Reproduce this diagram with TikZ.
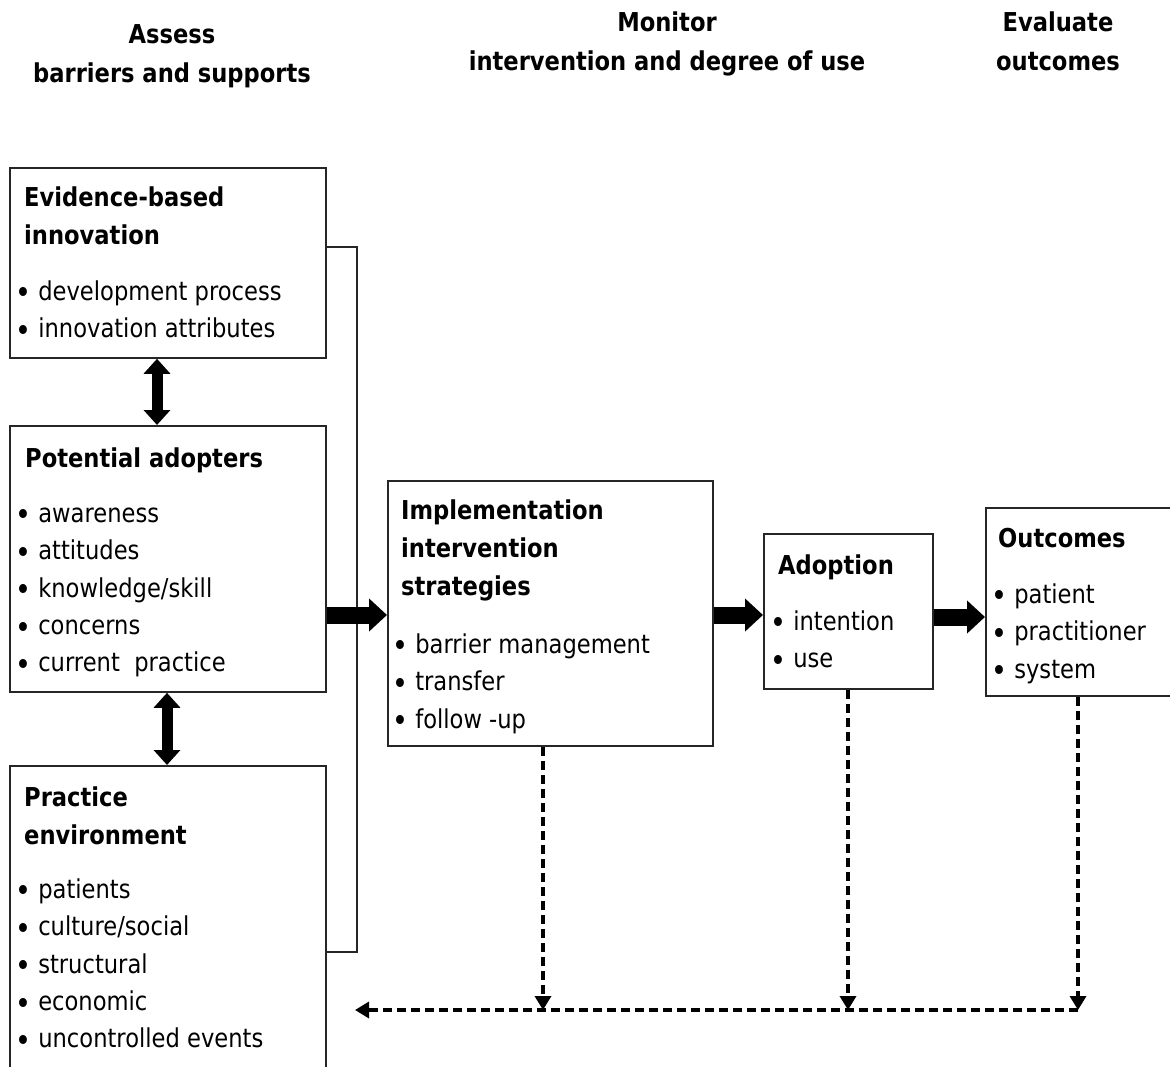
\documentclass[tikz,border=0pt]{standalone}
\usepackage{fontspec}
\setmainfont{DejaVu Sans}[FakeStretch=0.87]
\usetikzlibrary{arrows.meta}
\newcommand\bl{\raisebox{-3.5pt}{\fontsize{31}{37}\selectfont\textbullet}\ }
\begin{document}
\begin{tikzpicture}[x=1pt,y=-1pt,
  box/.style={draw=black!85,line width=1.8pt,anchor=north west,inner sep=0pt,fill=none},
  head/.style={anchor=north west,inner sep=0pt,align=left,font=\fontsize{26}{38}\selectfont\bfseries},
  blt/.style={anchor=north west,inner sep=0pt,align=left,font=\fontsize{26}{37.4}\selectfont},
  ttl/.style={anchor=north,inner sep=0pt,align=center,font=\fontsize{26}{39}\selectfont\bfseries},
  bigarrow/.style={line width=17pt,-{Triangle[length=18pt,width=32pt]}},
  dblarrow/.style={line width=11pt,{Triangle[length=15pt,width=26pt]}-{Triangle[length=15pt,width=26pt]}},
  bracket/.style={draw=black!85,line width=1.8pt},
  dsh/.style={line width=3.4pt,dash pattern=on 9pt off 5pt,-{Triangle[length=14pt,width=16pt]}}]
\useasboundingbox (0,0) rectangle (1170,1067);

% titles
\node[ttl] (t1) at (172,16) {\strut Assess\\barriers and supports};
\node[ttl] (t2) at (667,4) {\strut Monitor\\intervention and degree of use};
\node[ttl] (t3) at (1058,4) {\strut Evaluate\\outcomes};

% boxes
\node[box,minimum width=316,minimum height=190] (evid) at (9,167) {};
\node[box,minimum width=316,minimum height=266] (adopt) at (9,425) {};
\node[box,minimum width=316,minimum height=310] (prac) at (9,765) {};
\node[box,minimum width=325,minimum height=265] (impl) at (387,480) {};
\node[box,minimum width=169,minimum height=155] (adop) at (763,533) {};
\node[box,minimum width=200,minimum height=188] (outc) at (985,507) {};

% texts
\node[head] (evidh) at (24,180) {\strut Evidence-based\\innovation};
\node[blt] (evidb) at (15,274) {\strut\bl development process\\\bl innovation attributes};
\node[head] (adopth) at (25,441) {\strut Potential adopters};
\node[blt] (adoptb) at (15,496) {\strut\bl awareness\\\bl attitudes\\\bl knowledge/skill\\\bl concerns\\\bl current\ \ practice};
\node[head] (prach) at (24,780) {\strut Practice\\environment};
\node[blt] (pracb) at (15,872) {\strut\bl patients\\\bl culture/social\\\bl structural\\\bl economic\\\bl uncontrolled events};
\node[head] (implh) at (401,493) {\strut Implementation\\intervention\\strategies};
\node[blt] (implb) at (392,627) {\strut\bl barrier management\\\bl transfer\\\bl follow -up};
\node[head] (adoph) at (778,548) {\strut Adoption};
\node[blt] (adopb) at (770,604) {\strut\bl intention\\\bl use};
\node[head] (outch) at (998,521) {\strut Outcomes};
\node[blt] (outcb) at (991,577) {\strut\bl patient\\\bl practitioner\\\bl system};

% double arrows
\draw[dblarrow] (evid.south -| 157,0) -- (adopt.north -| 157,0);
\draw[dblarrow] (adopt.south -| 167,0) -- (prac.north -| 167,0);

% bracket
\coordinate (br1) at (357,247);
\coordinate (br2) at (357,952);
\draw[bracket] (evid.east |- br1) -- (br1) -- (br2) -- (prac.east |- br2);

% big arrows
\draw[bigarrow] (adopt.east |- 0,615) -- (impl.west |- 0,615);
\draw[bigarrow] (impl.east |- 0,615) -- (adop.west |- 0,615);
\draw[bigarrow] (adop.east |- 0,617) -- (outc.west |- 0,617);

% dashed feedback
\coordinate (j1) at (543,1010);
\coordinate (j2) at (848,1010);
\coordinate (j3) at (1078,1010);
\coordinate (fb) at (355,1010);
\draw[dsh] (impl.south -| j1) -- (j1);
\draw[dsh] (adop.south -| j2) -- (j2);
\draw[dsh] (outc.south -| j3) -- (j3);
\draw[dsh] (j3) -- (fb);
\end{tikzpicture}
\end{document}
